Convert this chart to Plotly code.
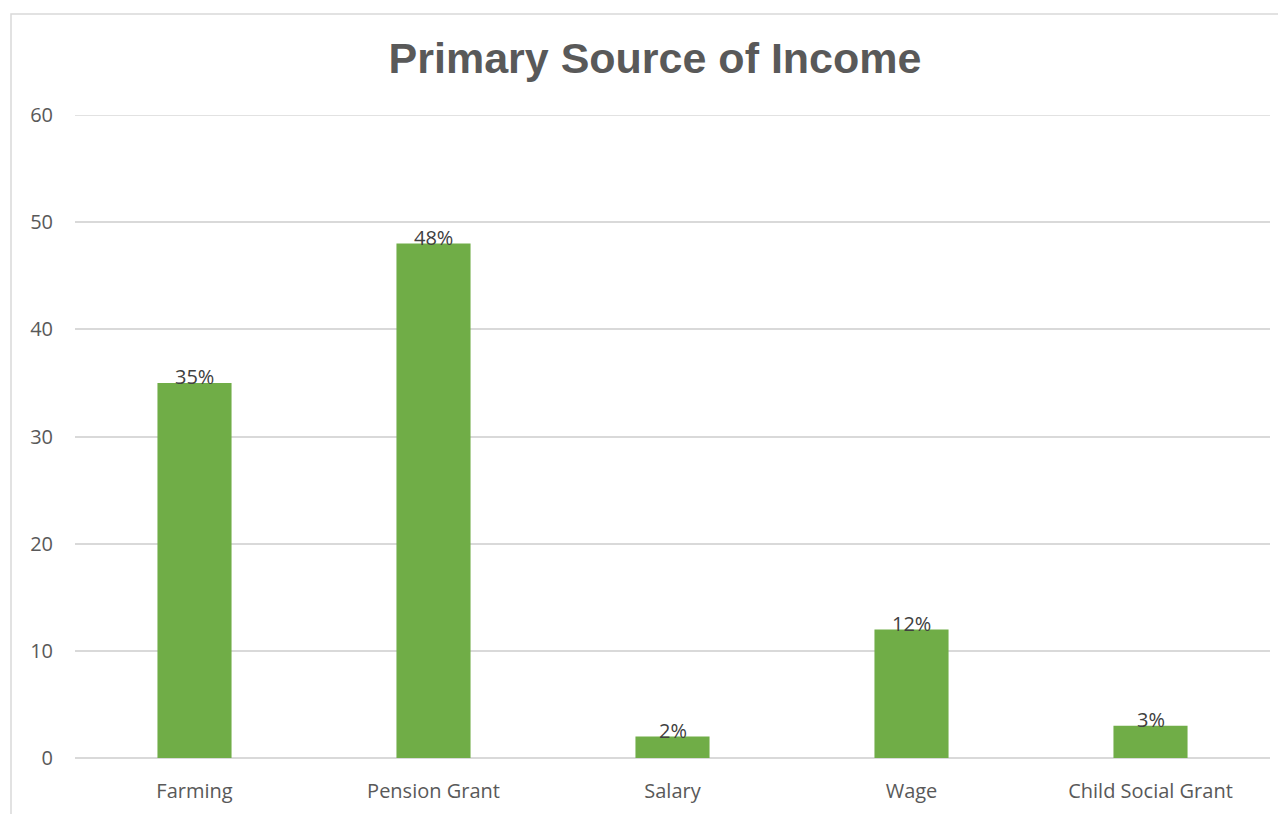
import plotly.graph_objects as go

categories = ["Farming", "Pension Grant", "Salary", "Wage", "Child Social Grant"]
values = [35, 48, 2, 12, 3]
labels = ["35%", "48%", "2%", "12%", "3%"]
y_ticks = [0, 10, 20, 30, 40, 50, 60]

fig = go.Figure()
fig.add_trace(go.Bar(x=categories, y=values, marker=dict(color="#70AD47", line=dict(width=0)),
                     width=0.31, hoverinfo="x+y"))

for c, v, t in zip(categories, values, labels):
    fig.add_annotation(x=c, y=v, text=t, showarrow=False, yanchor="middle", yshift=6,
                       font=dict(family="Open Sans", size=20, color="#404040"))

fig.update_layout(
    width=1286, height=814,
    margin=dict(l=67, r=24, t=107, b=64),
    paper_bgcolor="white", plot_bgcolor="white",
    showlegend=False,
    bargap=0.69,
    title=dict(text="<b>Primary Source of Income</b>", x=647/1286, xanchor="center",
               y=1 - 50/814, yanchor="middle",
               font=dict(family="Liberation Sans", size=43, color="#595959")),
    xaxis=dict(showgrid=False, showline=False, ticks="", ticklabelstandoff=19,
               tickfont=dict(family="Open Sans", size=20, color="#595959")),
    yaxis=dict(range=[0, 60], tickvals=y_ticks, showgrid=True, gridcolor="#d9d9d9", gridwidth=1.5,
               zeroline=True, zerolinecolor="#d9d9d9", zerolinewidth=2, showline=False, ticks="",
               ticklabelstandoff=21,
               tickfont=dict(family="Open Sans", size=20, color="#595959")),
)

# top gridline at the axis maximum
fig.add_shape(type="line", xref="paper", yref="y", x0=0, x1=1, y0=y_ticks[-1], y1=y_ticks[-1],
              line=dict(color="#d9d9d9", width=1.5), layer="below")

fig.add_shape(type="rect", xref="paper", yref="paper",
              x0=-64/1195, x1=1.2, y0=-0.2, y1=1 + 101/643,
              line=dict(color="#d9d9d9", width=1.5), fillcolor="rgba(0,0,0,0)", layer="below")

fig.write_html("out.html")
